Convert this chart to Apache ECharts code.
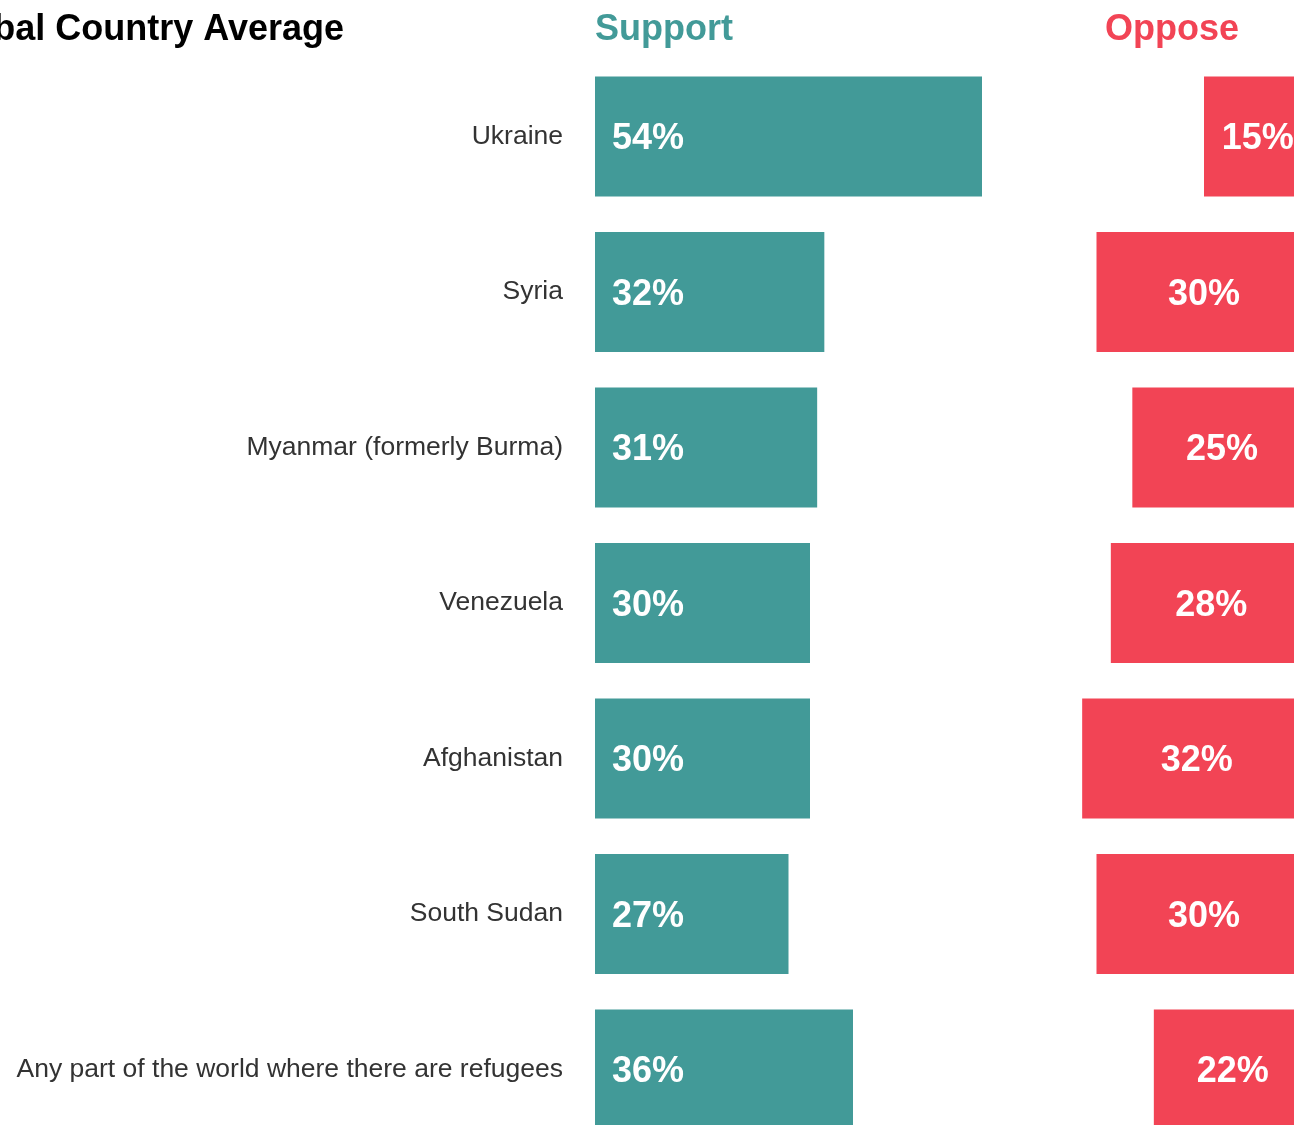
<!DOCTYPE html>
<html>
<head>
<meta charset="utf-8">
<title>Global Country Average</title>
<script src="https://cdn.jsdelivr.net/npm/echarts@6/dist/echarts.min.js"></script>
<style>
  html, body { margin: 0; padding: 0; background: #fff; }
  #chart { width: 1294px; height: 1125px; }
</style>
</head>
<body>
<div id="chart"></div>
<script>
const categories = [
  'Ukraine',
  'Syria',
  'Myanmar (formerly Burma)',
  'Venezuela',
  'Afghanistan',
  'South Sudan',
  'Any part of the world where there are refugees'
]
const supportValues = [54, 32, 31, 30, 30, 27, 36]
const opposeValues = [15, 30, 25, 28, 32, 30, 22]

const teal = '#429a98'
const red = '#f24455'
const font = 'Liberation Sans, Arial, sans-serif'

const chart = echarts.init(document.getElementById('chart'))

// grid reaches past the bottom and right edge, like the original crop
const gridTop = 58.75
const gridHeight = 1088.5

chart.setOption({
  animation: false,
  graphic: [
    {
      type: 'text',
      x: 344,
      y: 30,
      style: {
        text: 'Global Country Average',
        fill: '#000',
        font: 'bold 36px ' + font,
        textAlign: 'right',
        textVerticalAlign: 'middle'
      }
    },
    {
      type: 'text',
      x: 595,
      y: 30,
      style: {
        text: 'Support',
        fill: teal,
        font: 'bold 36px ' + font,
        textAlign: 'left',
        textVerticalAlign: 'middle'
      }
    },
    {
      type: 'text',
      x: 1105,
      y: 30,
      style: {
        text: 'Oppose',
        fill: red,
        font: 'bold 36px ' + font,
        textAlign: 'left',
        textVerticalAlign: 'middle'
      }
    }
  ],
  grid: [
    { left: 595, top: gridTop, width: 430, height: gridHeight, outerBoundsMode: 'none', containLabel: false },
    { left: 881.5, top: gridTop, width: 430, height: gridHeight, outerBoundsMode: 'none', containLabel: false }
  ],
  xAxis: [
    { type: 'value', gridIndex: 0, min: 0, max: 60, show: false },
    { type: 'value', gridIndex: 1, min: 0, max: 60, inverse: true, show: false }
  ],
  yAxis: [
    {
      type: 'category',
      gridIndex: 0,
      inverse: true,
      data: categories,
      axisLine: { show: false },
      axisTick: { show: false },
      splitLine: { show: false },
      axisLabel: {
        margin: 32,
        fontSize: 26.5,
        fontFamily: font,
        color: '#333',
        padding: [2, 0, 0, 0]
      }
    },
    {
      type: 'category',
      gridIndex: 1,
      inverse: true,
      data: categories,
      show: false
    }
  ],
  series: [
    {
      name: 'Support',
      type: 'bar',
      xAxisIndex: 0,
      yAxisIndex: 0,
      barWidth: 120,
      itemStyle: { color: teal },
      label: {
        show: true,
        position: 'insideLeft',
        distance: 17,
        offset: [0, 3],
        formatter: '{c}%',
        color: '#fff',
        fontSize: 36,
        fontWeight: 'bold',
        fontFamily: font
      },
      data: supportValues
    },
    {
      name: 'Oppose',
      type: 'bar',
      xAxisIndex: 1,
      yAxisIndex: 1,
      barWidth: 120,
      itemStyle: { color: red },
      label: {
        show: true,
        position: 'inside',
        offset: [0, 3],
        formatter: '{c}%',
        color: '#fff',
        fontSize: 36,
        fontWeight: 'bold',
        fontFamily: font
      },
      data: opposeValues
    }
  ]
})
</script>
</body>
</html>
